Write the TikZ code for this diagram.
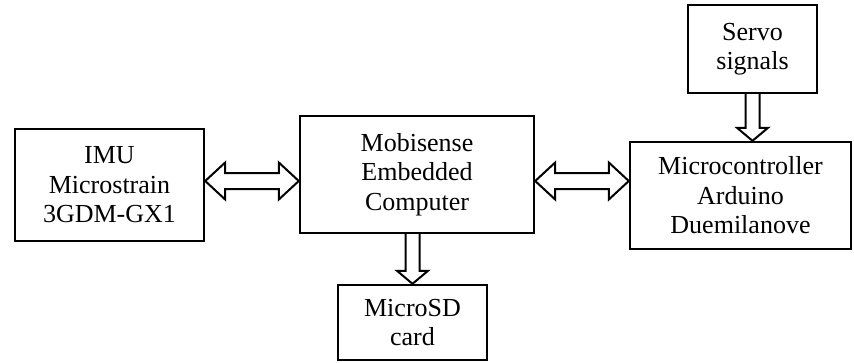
\documentclass[tikz,border=0pt]{standalone}
\usepackage{fontspec}
\setmainfont{Liberation Serif}
\usetikzlibrary{calc}
\tikzset{
  box/.style={draw, line width=2.4pt, inner sep=0pt, align=center,
    font=\fontsize{26}{29.5}\selectfont},
  fat/.style={draw, line width=2pt, fill=white, line join=miter},
}
\newcommand\hfatarrow[2]{%
  \draw[fat] let \p1=(#1), \p2=(#2) in
    (\x1,\y1) -- (\x1+20pt,\y1+18.5pt) -- (\x1+20pt,\y1+8pt) -- (\x2-20pt,\y1+8pt)
    -- (\x2-20pt,\y1+18.5pt) -- (\x2,\y1) -- (\x2-20pt,\y1-18.5pt) -- (\x2-20pt,\y1-8pt)
    -- (\x1+20pt,\y1-8pt) -- (\x1+20pt,\y1-18.5pt) -- cycle;}
\newcommand\vfatarrow[2]{%
  \draw[fat] let \p1=(#1), \p2=(#2) in
    (\x1-7pt,\y1) -- (\x1-7pt,\y2+13pt) -- (\x1-15.5pt,\y2+13pt) -- (\x1,\y2)
    -- (\x1+15.5pt,\y2+13pt) -- (\x1+7pt,\y2+13pt) -- (\x1+7pt,\y1);}
\begin{document}
\begin{tikzpicture}[x=1pt,y=-1pt]
\useasboundingbox (0,0) rectangle (854,362);
\node[box, minimum width=189pt, minimum height=112pt] (imu) at (109.5,185)
  {IMU\\Microstrain\\3GDM-GX1};
\node[box, minimum width=234pt, minimum height=117pt] (mob) at (417,174.5)
  {Mobisense\\Embedded\\Computer};
\node[box, minimum width=221pt, minimum height=107pt] (mc) at (740.5,195.5)
  {Microcontroller\\Arduino\\Duemilanove};
\node[box, minimum width=129pt, minimum height=88pt] (servo) at (752.5,49)
  {Servo\\signals};
\node[box, minimum width=149pt, minimum height=75pt] (sd) at (412.5,322.5)
  {MicroSD\\card};
\coordinate (ay) at (0,181);
\hfatarrow{imu.east |- ay}{mob.west |- ay}
\hfatarrow{mob.east |- ay}{mc.west |- ay}
\vfatarrow{sd.north |- mob.south}{sd.north}
\vfatarrow{servo.south}{servo.south |- mc.north}
\end{tikzpicture}
\end{document}
